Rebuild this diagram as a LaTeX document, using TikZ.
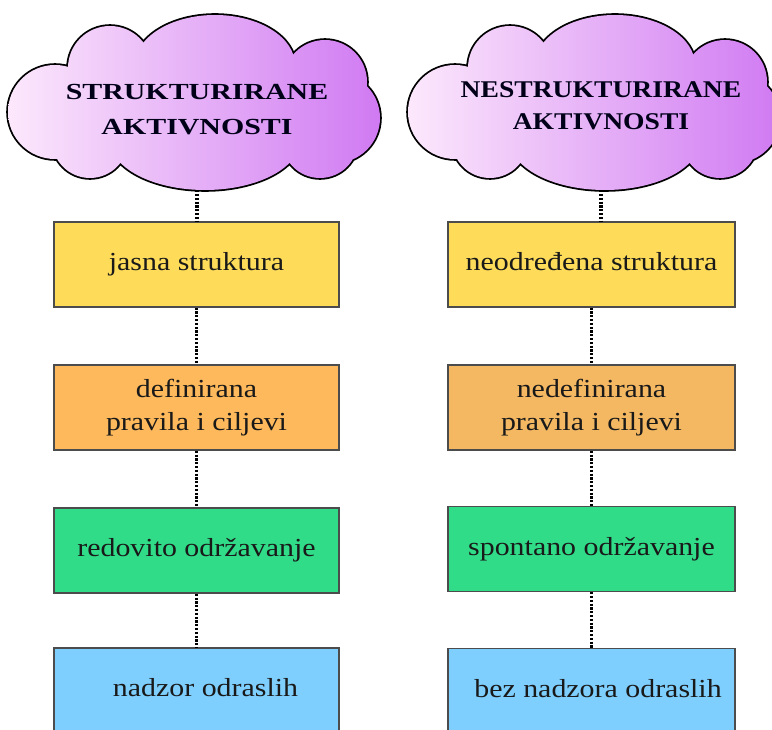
\documentclass[tikz,border=0pt]{standalone}
\usepackage{fontspec}
\setmainfont{Liberation Serif}
\newfontfamily\bodyfont[FakeStretch=1.15]{Liberation Serif}
\newfontfamily\cloudLfont[FakeStretch=1.3]{Liberation Serif}
\newfontfamily\cloudRfont[FakeStretch=1.15]{Liberation Serif}
\definecolor{cloudA}{HTML}{FCE8FC}
\definecolor{cloudB}{HTML}{D07AF2}
\definecolor{yel}{HTML}{FEDC5A}
\definecolor{orL}{HTML}{FDB95B}
\definecolor{orR}{HTML}{F4B863}
\definecolor{grn}{HTML}{31DC89}
\definecolor{blu}{HTML}{7ECFFE}
\tikzset{
  cloudpic/.pic={
    \draw[line width=3.6pt, fill=white]
      (55,112) circle[radius=47pt] (110,68) circle[radius=42pt]
      (215,65) ellipse[x radius=80pt, y radius=50pt]
      (325,82) circle[radius=42pt] (335,118) circle[radius=45pt]
      (320,140) circle[radius=38pt]
      (205,140) ellipse[x radius=95pt, y radius=50pt]
      (90,140) circle[radius=38pt]
      (195,105) ellipse[x radius=150pt, y radius=60pt];
    \shade[left color=cloudA, right color=cloudB]
      (55,112) circle[radius=47pt] (110,68) circle[radius=42pt]
      (215,65) ellipse[x radius=80pt, y radius=50pt]
      (325,82) circle[radius=42pt] (335,118) circle[radius=45pt]
      (320,140) circle[radius=38pt]
      (205,140) ellipse[x radius=95pt, y radius=50pt]
      (90,140) circle[radius=38pt]
      (195,105) ellipse[x radius=150pt, y radius=60pt];
  },
  cloudtext/.style={minimum width=340pt, inner sep=0pt, align=center, text=black!90!blue},
  box/.style={draw=black!70, line width=1.4pt, minimum height=85pt, inner sep=0pt,
    align=center, text=black!90, font=\bodyfont\fontsize{26}{33}\selectfont},
  lbox/.style={box, minimum width=285pt},
  rbox/.style={box, minimum width=287pt},
  one/.style={text height=18pt, text depth=6pt},
  link/.style={line width=3.2pt, dash pattern=on 2.2pt off 1.6pt},
}
\begin{document}
\begin{tikzpicture}[x=1pt, y=-1pt]
\useasboundingbox (0,0) rectangle (772,730);
\clip (0,0) rectangle (772,730);
\fill[white] (0,0) rectangle (772,730);
\pic at (0,0) {cloudpic};
\pic at (400,0) {cloudpic};
\node[cloudtext, minimum height=160pt, font=\cloudLfont\bfseries\fontsize{23}{35}\selectfont]
  (cL) at (197,110) {STRUKTURIRANE\\AKTIVNOSTI};
\node[cloudtext, minimum height=168pt, font=\cloudRfont\bfseries\fontsize{24}{32}\selectfont]
  (cR) at (601,106) {NESTRUKTURIRANE\\AKTIVNOSTI};
% left column
\node[lbox, one, fill=yel] (L1) at (196.5,264.5) {jasna struktura};
\node[lbox, fill=orL] (L2) at (196.5,407.5) {definirana\\pravila i ciljevi};
\node[lbox, one, fill=grn] (L3) at (196.5,550.5) {redovito održavanje};
\node[lbox, one, fill=blu] (L4) at (196.5,690.5) {\hspace{18pt}nadzor odraslih};
% right column
\node[rbox, one, fill=yel] (R1) at (591.5,264.5) {neodređena struktura};
\node[rbox, fill=orR] (R2) at (591.5,407.5) {nedefinirana\\pravila i ciljevi};
\node[rbox, one, fill=grn] (R3) at (591.5,549) {spontano održavanje};
\node[rbox, one, fill=blu] (R4) at (591.5,691) {\hspace{13pt}bez nadzora odraslih};
% connectors
\draw[link] (cL.south) -- (cL.south |- L1.north);
\draw[link] (L1) -- (L2);
\draw[link] (L2) -- (L3);
\draw[link] (L3) -- (L4);
\draw[link] (cR.south) -- (cR.south |- R1.north);
\draw[link] (R1) -- (R2);
\draw[link] (R2) -- (R3);
\draw[link] (R3) -- (R4);
\end{tikzpicture}
\end{document}
